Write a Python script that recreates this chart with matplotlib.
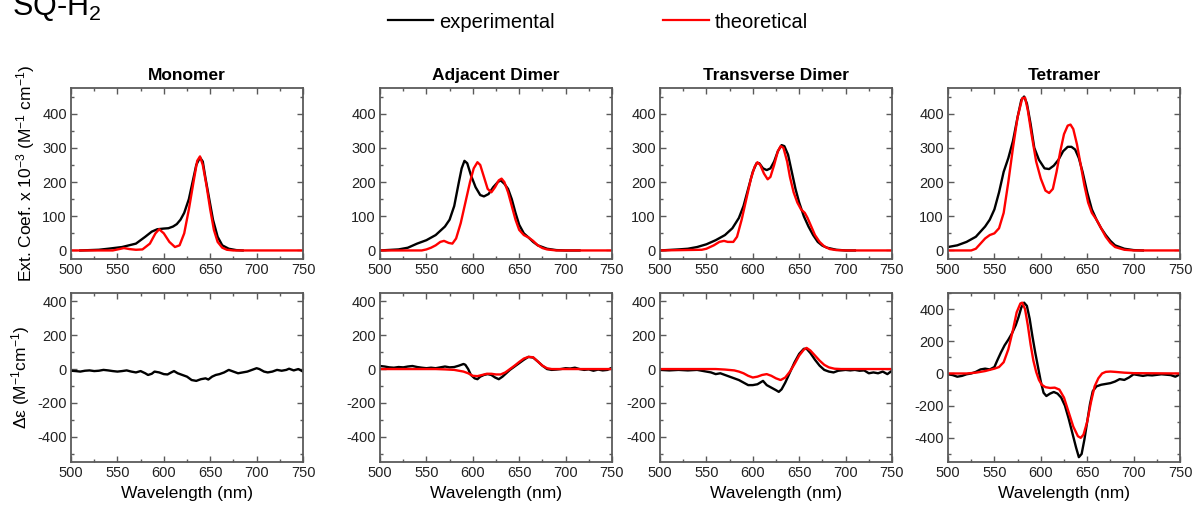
import matplotlib
matplotlib.use("Agg")
import matplotlib.pyplot as plt
from matplotlib.ticker import MultipleLocator

plt.rcParams['font.family'] = ['Liberation Sans', 'DejaVu Sans']
plt.rcParams['axes.unicode_minus'] = False
plt.rcParams['mathtext.fontset'] = 'custom'
plt.rcParams['mathtext.rm'] = 'Liberation Sans'
plt.rcParams['mathtext.it'] = 'Liberation Sans:italic'

titles = ["Monomer", "Adjacent Dimer", "Transverse Dimer", "Tetramer"]

# ---- absorption (top row) ----
mono_abs_exp_x = [510, 520, 530, 540, 555, 570, 580, 587, 593, 600, 605, 610, 614, 618, 622, 627, 631, 635, 639,
                  642, 645, 649, 653, 658, 663, 670, 678, 685]
mono_abs_exp_y = [0, 1, 2, 5, 10, 20, 40, 55, 62, 64, 65, 70, 77, 90, 110, 150, 200, 250, 272,
                  260, 210, 150, 90, 40, 15, 5, 1, 0]
mono_abs_th_x = [500, 545, 552, 557, 563, 570, 577, 585, 591, 595, 600, 606, 612, 617, 622, 627, 632, 636, 639,
                 642, 646, 650, 654, 658, 663, 668, 675, 750]
mono_abs_th_y = [0, 0, 4, 7, 4, 2, 3, 20, 50, 62, 50, 25, 10, 15, 50, 120, 200, 262, 275,
                 250, 190, 120, 60, 25, 8, 2, 0, 0]

adj_abs_exp_x = [500, 520, 530, 540, 550, 560, 570, 575, 580, 585, 588, 591, 594, 598, 603, 608, 612, 617, 622,
                 627, 630, 634, 638, 642, 646, 650, 655, 660, 665, 670, 680, 690, 700, 715]
adj_abs_exp_y = [0, 3, 8, 20, 30, 45, 70, 90, 130, 200, 240, 262, 255, 220, 185, 162, 158, 165, 185,
                 200, 205, 195, 180, 150, 110, 75, 50, 38, 25, 15, 5, 1, 0, 0]
adj_abs_th_x = [500, 545, 550, 555, 560, 565, 569, 574, 578, 582, 587, 592, 597, 601, 605, 608, 612, 616, 620,
                624, 628, 631, 634, 638, 642, 646, 650, 655, 660, 665, 670, 675, 680, 690, 750]
adj_abs_th_y = [0, 0, 3, 8, 15, 25, 28, 22, 20, 35, 80, 140, 200, 240, 258, 250, 215, 180, 170,
                185, 205, 210, 200, 170, 130, 90, 60, 45, 38, 28, 15, 7, 3, 0, 0]

trn_abs_exp_x = [500, 520, 530, 540, 550, 560, 570, 578, 585, 590, 595, 600, 604, 607, 611, 615, 619, 623, 627,
                 631, 634, 638, 642, 646, 650, 655, 660, 665, 670, 675, 680, 690, 700, 710]
trn_abs_exp_y = [0, 3, 5, 10, 18, 30, 45, 65, 95, 130, 180, 230, 255, 255, 240, 235, 240, 260, 290,
                 308, 305, 280, 230, 180, 140, 100, 70, 45, 25, 14, 8, 2, 0, 0]
trn_abs_th_x = [500, 545, 550, 558, 564, 569, 573, 579, 583, 588, 593, 598, 602, 605, 608, 612, 616, 619, 623,
                627, 630, 633, 637, 640, 644, 648, 652, 656, 659, 663, 667, 672, 677, 683, 690, 700, 750]
trn_abs_th_y = [0, 2, 5, 15, 25, 28, 25, 25, 40, 90, 150, 210, 245, 258, 250, 225, 208, 215, 250,
                290, 305, 300, 260, 215, 170, 140, 120, 110, 95, 70, 45, 25, 12, 4, 1, 0, 0]

tet_abs_exp_x = [500, 510, 520, 530, 540, 545, 550, 555, 560, 565, 570, 575, 579, 582, 585, 589, 593, 598, 604,
                 609, 614, 619, 624, 629, 633, 637, 641, 645, 650, 655, 660, 665, 670, 675, 680, 690, 700, 710]
tet_abs_exp_y = [10, 15, 25, 40, 70, 90, 120, 170, 230, 270, 320, 390, 440, 450, 430, 370, 300, 265, 240,
                 238, 248, 265, 290, 303, 303, 295, 270, 230, 170, 120, 90, 65, 45, 28, 15, 5, 1, 0]
tet_abs_th_x = [500, 525, 530, 535, 540, 545, 550, 555, 560, 565, 570, 575, 580, 583, 586, 590, 595, 600, 605,
                609, 613, 617, 621, 625, 629, 632, 635, 639, 643, 647, 651, 655, 660, 665, 670, 675, 680, 690,
                700, 750]
tet_abs_th_y = [0, 0, 5, 20, 35, 45, 50, 65, 110, 200, 300, 390, 445, 447, 410, 340, 260, 210, 175,
                168, 180, 230, 290, 340, 365, 368, 355, 310, 250, 190, 140, 110, 90, 65, 40, 22, 10, 2,
                0, 0]

# ---- circular dichroism (bottom row) ----
mono_cd_exp_x = [500, 505, 510, 515, 520, 525, 530, 535, 540, 545, 550, 555, 560, 565, 570, 575, 580, 583, 587,
                 590, 595, 600, 604, 608, 611, 615, 620, 625, 630, 635, 640, 645, 648, 652, 656, 660, 665, 670,
                 675, 680, 685, 690, 695, 700, 703, 708, 712, 717, 722, 727, 732, 735, 740, 745, 750]
mono_cd_exp_y = [-10, -12, -15, -10, -8, -12, -10, -5, -8, -12, -15, -12, -8, -15, -20, -12, -25, -35, -28,
                 -15, -20, -30, -32, -20, -12, -25, -35, -45, -65, -70, -60, -55, -62, -45, -35, -30, -20, -5,
                 -15, -25, -20, -15, -5, 5, 0, -15, -20, -15, -5, -10, -5, 2, -8, 0, -15]

adj_cd_exp_x = [500, 505, 510, 515, 520, 525, 530, 535, 540, 545, 550, 555, 560, 565, 570, 575, 580, 585, 590,
                592, 595, 598, 602, 605, 608, 612, 616, 620, 624, 628, 632, 636, 640, 645, 650, 655, 660, 665,
                670, 675, 680, 685, 690, 695, 700, 705, 710, 715, 720, 725, 730, 735, 740, 745, 750]
adj_cd_exp_y = [18, 15, 10, 8, 12, 10, 15, 18, 12, 8, 5, 8, 5, 10, 15, 10, 12, 20, 30,
                25, 0, -35, -55, -60, -45, -35, -30, -35, -50, -60, -45, -25, -5, 15, 35, 55, 72, 68,
                45, 20, 0, -5, -3, 0, 5, 3, 8, 0, -5, -2, -10, -3, -8, -5, 8]
adj_cd_th_x = [500, 560, 570, 580, 590, 595, 600, 605, 610, 615, 620, 625, 630, 635, 640, 645, 650, 655, 660,
               665, 670, 675, 680, 685, 750]
adj_cd_th_y = [0, 0, -2, -5, -15, -25, -40, -42, -35, -28, -28, -32, -32, -20, 0, 20, 42, 62, 72,
               70, 45, 20, 5, 0, 0]

trn_cd_exp_x = [500, 510, 520, 530, 540, 545, 550, 555, 560, 565, 570, 575, 580, 585, 590, 595, 600, 605, 608,
                611, 615, 620, 625, 628, 631, 635, 640, 645, 650, 655, 658, 662, 667, 672, 677, 682, 687, 692,
                700, 705, 710, 715, 720, 725, 730, 735, 740, 745, 750]
trn_cd_exp_y = [-5, -8, -5, -8, -5, -10, -15, -20, -30, -25, -35, -45, -55, -65, -80, -95, -95, -90, -80,
                -70, -95, -110, -125, -135, -120, -80, -20, 40, 90, 120, 120, 95, 55, 20, -5, -15, -20, -10,
                -5, -8, -5, -10, -8, -25, -20, -25, -15, -30, -10]
trn_cd_th_x = [500, 560, 570, 580, 585, 590, 595, 600, 605, 610, 615, 620, 625, 630, 635, 640, 645, 650, 655,
               658, 662, 667, 672, 677, 682, 688, 695, 750]
trn_cd_th_y = [0, 0, -3, -8, -15, -25, -40, -50, -45, -35, -30, -40, -55, -65, -50, -15, 30, 80, 115,
               125, 110, 80, 50, 25, 10, 2, 0, 0]

tet_cd_exp_x = [500, 505, 510, 515, 520, 525, 530, 535, 540, 545, 550, 553, 557, 561, 565, 569, 573, 576, 579,
                582, 585, 588, 591, 594, 597, 600, 603, 606, 610, 614, 618, 622, 626, 630, 634, 638, 641, 644,
                647, 650, 653, 656, 660, 665, 670, 675, 680, 685, 690, 695, 700, 705, 710, 715, 720, 730, 740,
                745, 750]
tet_cd_exp_y = [-5, -10, -20, -15, -5, 0, 10, 25, 30, 25, 40, 80, 130, 175, 210, 250, 300, 350, 410,
                440, 420, 340, 230, 130, 40, -50, -120, -140, -125, -115, -125, -150, -200, -280, -370, -460,
                -520, -500, -410, -300, -190, -110, -80, -70, -65, -60, -50, -35, -40, -25, -5, -10, -15, -10,
                -12, -5, -10, -20, -5]
tet_cd_th_x = [500, 520, 530, 540, 550, 555, 560, 565, 570, 574, 578, 580, 583, 586, 589, 592, 595, 598, 601,
               605, 610, 615, 620, 625, 630, 635, 640, 643, 646, 650, 654, 658, 662, 666, 670, 675, 680, 690,
               700, 750]
tet_cd_th_y = [0, 0, 5, 15, 30, 40, 70, 150, 270, 380, 435, 440, 400, 300, 180, 80, 10, -40, -70,
               -85, -90, -88, -100, -150, -240, -330, -390, -400, -380, -300, -180, -80, -30, 0, 10, 12, 10, 5,
               2, 0]

abs_exp = [(mono_abs_exp_x, mono_abs_exp_y), (adj_abs_exp_x, adj_abs_exp_y),
           (trn_abs_exp_x, trn_abs_exp_y), (tet_abs_exp_x, tet_abs_exp_y)]
abs_th = [(mono_abs_th_x, mono_abs_th_y), (adj_abs_th_x, adj_abs_th_y),
          (trn_abs_th_x, trn_abs_th_y), (tet_abs_th_x, tet_abs_th_y)]
cd_exp = [(mono_cd_exp_x, mono_cd_exp_y), (adj_cd_exp_x, adj_cd_exp_y),
          (trn_cd_exp_x, trn_cd_exp_y), (tet_cd_exp_x, tet_cd_exp_y)]
cd_th = [None, (adj_cd_th_x, adj_cd_th_y), (trn_cd_th_x, trn_cd_th_y), (tet_cd_th_x, tet_cd_th_y)]

W, H = 1193, 508
fig = plt.figure(figsize=(W / 100, H / 100), dpi=100)

lefts = [71, 380, 660, 948]
width = 232
spine_col = '#5a5a5a'


def style(ax):
    for s in ax.spines.values():
        s.set_color(spine_col)
        s.set_linewidth(1.3)
    ax.set_xlim(500, 750)
    ax.xaxis.set_major_locator(MultipleLocator(50))
    ax.xaxis.set_minor_locator(MultipleLocator(25))
    ax.yaxis.set_minor_locator(MultipleLocator(50))
    ax.tick_params(which='both', direction='in', top=True, right=True, color=spine_col,
                   labelsize=10.5, labelcolor='#222222', pad=3)
    ax.tick_params(which='major', length=4, width=1)
    ax.tick_params(which='minor', length=2, width=1)


for i in range(4):
    # top row
    ax = fig.add_axes([lefts[i] / W, 1 - 259 / H, width / W, 171 / H])
    style(ax)
    ax.set_ylim(-25, 475)
    ax.yaxis.set_major_locator(MultipleLocator(100))
    ax.plot(*abs_exp[i], color='black', lw=1.7)
    ax.plot(*abs_th[i], color='#ff0000', lw=1.7)
    ax.set_title(titles[i], fontsize=12.5, fontweight='bold', pad=6)
    if i == 0:
        ax.set_ylabel("Ext. Coef. x 10$^{-3}$ (M$^{-1}$ cm$^{-1}$)", fontsize=12.5, labelpad=4)

    # bottom row
    ax2 = fig.add_axes([lefts[i] / W, 1 - 462 / H, width / W, 169 / H])
    style(ax2)
    ax2.set_ylim(-550, 500 if i == 3 else 450)
    ax2.yaxis.set_major_locator(MultipleLocator(200))
    ax2.yaxis.set_minor_locator(MultipleLocator(100))
    ax2.plot(*cd_exp[i], color='black', lw=1.7)
    if cd_th[i] is not None:
        ax2.plot(*cd_th[i], color='#ff0000', lw=1.7)
    ax2.set_xlabel("Wavelength (nm)", fontsize=12.5, labelpad=4)
    if i == 0:
        ax2.set_ylabel("Δε (M$^{-1}$cm$^{-1}$)", fontsize=12.5, labelpad=4)

fig.text(12 / W, 1 - 15 / H, "SQ-H$_2$", fontsize=22, va='baseline', ha='left')

h1, = plt.plot([], [], color='black', lw=1.6, label='experimental')
h2, = plt.plot([], [], color='#ff0000', lw=1.6, label='theoretical')
fig.legend(handles=[h1, h2], loc='center', bbox_to_anchor=(0.501, 1 - 22 / H), ncol=2,
           frameon=False, fontsize=14.5, handlelength=2.25, handletextpad=0.3, columnspacing=5.4)

fig.savefig("out.png", dpi=100)
